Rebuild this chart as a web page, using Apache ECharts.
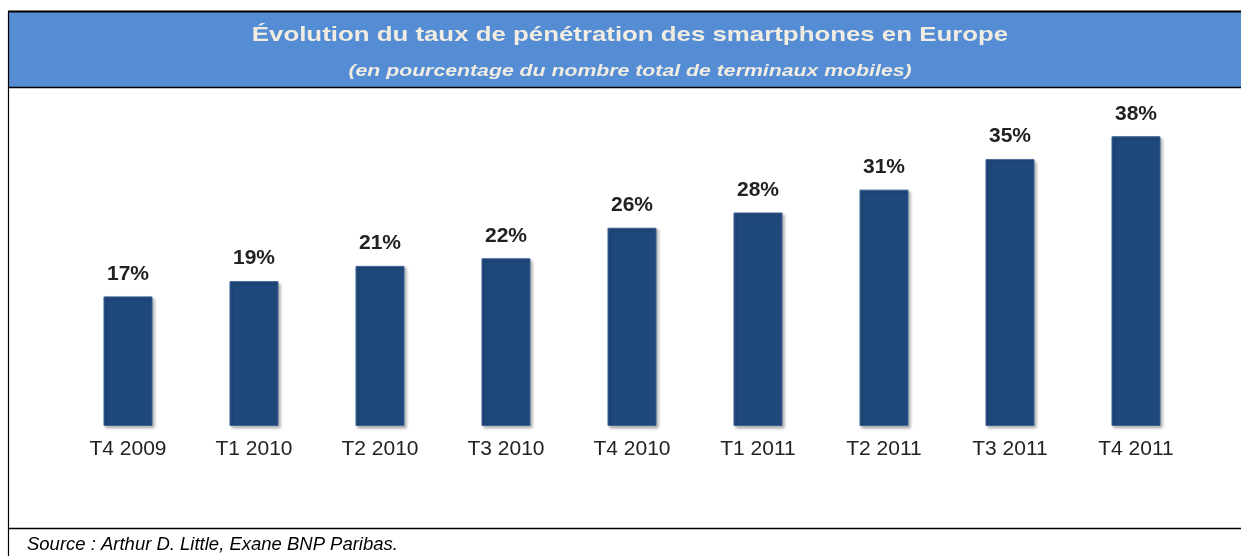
<!DOCTYPE html>
<html>
<head>
<meta charset="utf-8">
<script src="https://cdn.jsdelivr.net/npm/echarts@6/dist/echarts.min.js"></script>
<style>html,body{margin:0;padding:0;background:#fff}#c{width:1241px;height:556px}</style>
</head>
<body>
<div id="c"></div>
<script>
var categories = ['T4 2009','T1 2010','T2 2010','T3 2010','T4 2010','T1 2011','T2 2011','T3 2011','T4 2011'];
var values = [17, 19, 21, 22, 26, 28, 31, 35, 38];
var titleText = 'Évolution du taux de pénétration des smartphones en Europe';
var subtitleText = '(en pourcentage du nombre total de terminaux mobiles)';
var sourceText = 'Source : Arthur D. Little, Exane BNP Paribas.';

var chart = echarts.init(document.getElementById('c'), null, {renderer: 'canvas'});
var font = "'Liberation Sans', Arial, sans-serif";
chart.setOption({
  animation: false,
  grid: {left: 65, right: 42, top: 121, bottom: 130},
  xAxis: {
    type: 'category',
    data: categories,
    axisLine: {show: false},
    axisTick: {show: false},
    axisLabel: {fontFamily: font, fontSize: 21, color: '#222', margin: 13}
  },
  yAxis: {
    type: 'value', min: 0, max: 40, interval: 10,
    show: false
  },
  series: [{
    type: 'bar',
    data: values,
    barWidth: 49,
    itemStyle: {
      color: '#1F497D',
      borderColor: '#3d6294',
      borderWidth: 1,
      shadowColor: 'rgba(0,0,0,0.3)',
      shadowBlur: 3,
      shadowOffsetX: 2,
      shadowOffsetY: 2
    },
    label: {
      show: true, position: 'top', distance: 12,
      formatter: '{c}%',
      fontFamily: font, fontSize: 21, fontWeight: 'bold', color: '#222'
    }
  }],
  graphic: [
    {type: 'rect', shape: {x: 8, y: 12, width: 1233, height: 75}, style: {fill: '#548DD4'}, z: 0},
    {type: 'line', shape: {x1: 8, y1: 11.5, x2: 1241, y2: 11.5}, style: {stroke: '#000', lineWidth: 2}},
    {type: 'line', shape: {x1: 8, y1: 87.5, x2: 1241, y2: 87.5}, style: {stroke: '#000', lineWidth: 1.5}},
    {type: 'line', shape: {x1: 8.5, y1: 11, x2: 8.5, y2: 556}, style: {stroke: '#000', lineWidth: 1.2}},
    {type: 'line', shape: {x1: 8, y1: 528.5, x2: 1241, y2: 528.5}, style: {stroke: '#000', lineWidth: 1.5}},
    {type: 'text', x: 630, y: 35, scaleX: 1.23, style: {text: titleText, fill: '#F0ECE2', font: 'bold 21px ' + font, textAlign: 'center', textVerticalAlign: 'middle'}},
    {type: 'text', x: 630, y: 71, scaleX: 1.25, style: {text: subtitleText, fill: '#F0ECE2', font: 'italic bold 17px ' + font, textAlign: 'center', textVerticalAlign: 'middle'}},
    {type: 'text', x: 27, y: 545, scaleX: 1.027, style: {text: sourceText, fill: '#000', font: 'italic 18px ' + font, textAlign: 'left', textVerticalAlign: 'middle'}}
  ]
});
</script>
</body>
</html>
